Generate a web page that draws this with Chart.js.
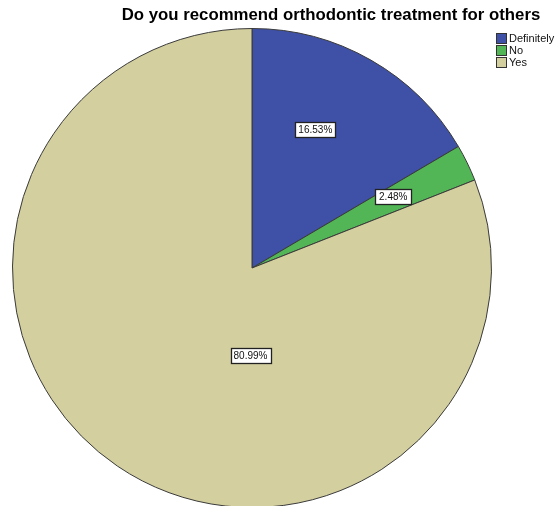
<!DOCTYPE html>
<html>
<head>
<meta charset="utf-8">
<script src="https://cdn.jsdelivr.net/npm/chart.js@4"></script>
<style>
  html, body { margin: 0; padding: 0; background: #fff; overflow: hidden; }
  #wrap { position: relative; width: 555px; height: 510px; }
</style>
</head>
<body>
<div id="wrap"><canvas id="c" width="555" height="510"></canvas></div>
<script>
const chartTitle = 'Do you recommend orthodontic treatment for others';
const categories = ['Definitely', 'No', 'Yes'];
const percentages = [16.53, 2.48, 80.99];
const sliceColors = ['#3f51a7', '#52b556', '#d3cf9f'];

// Boxed percentage labels; each placed by angle (deg from 12 o'clock, or null for mid-slice) and fraction of radius
const labelPlacement = [
  { angle: 24.6, frac: 0.635 },
  { angle: 63.3, frac: 0.66 },
  { angle: 181, frac: 0.365 }
];

const boxedLabels = {
  id: 'boxedLabels',
  afterDatasetsDraw(chart) {
    const ctx = chart.ctx;
    const meta = chart.getDatasetMeta(0);
    ctx.save();
    ctx.font = '10px "Liberation Sans", Arial, sans-serif';
    ctx.textAlign = 'center';
    ctx.textBaseline = 'middle';
    meta.data.forEach((arc, i) => {
      const p = arc.getProps(['x', 'y', 'startAngle', 'endAngle', 'outerRadius'], true);
      const pl = labelPlacement[i];
      let a = pl.angle == null ? (p.startAngle + p.endAngle) / 2 : (pl.angle - 90) * Math.PI / 180;
      const r = p.outerRadius * pl.frac;
      const cx = p.x + Math.cos(a) * r;
      const cy = p.y + Math.sin(a) * r;
      const txt = percentages[i].toFixed(2) + '%';
      const w = Math.max(ctx.measureText(txt).width + 6, 36);
      const h = 15;
      const bx = Math.round(cx - w / 2) + 0.5;
      const by = Math.round(cy - h / 2) + 0.5;
      ctx.fillStyle = '#ffffff';
      ctx.fillRect(bx, by, Math.round(w), h);
      ctx.strokeStyle = '#222';
      ctx.lineWidth = 1.3;
      ctx.strokeRect(bx, by, Math.round(w), h);
      ctx.fillStyle = '#111';
      ctx.fillText(txt, cx, cy + 0.5);
    });
    ctx.restore();
  }
};

const titleAndLegend = {
  id: 'titleAndLegend',
  afterDraw(chart) {
    const ctx = chart.ctx;
    ctx.save();
    ctx.fillStyle = '#000';
    ctx.font = 'bold 16.8px "Liberation Sans", Arial, sans-serif';
    ctx.textAlign = 'center';
    ctx.textBaseline = 'middle';
    ctx.fillText(chartTitle, 331, 15);

    ctx.font = '11px "Liberation Sans", Arial, sans-serif';
    ctx.textAlign = 'left';
    categories.forEach((name, i) => {
      const y = 33 + i * 12;
      ctx.fillStyle = sliceColors[i];
      ctx.fillRect(496.5, y + 0.5, 10, 10);
      ctx.strokeStyle = '#333';
      ctx.lineWidth = 1;
      ctx.strokeRect(496.5, y + 0.5, 10, 10);
      ctx.fillStyle = '#111';
      ctx.fillText(name, 509, y + 6);
    });
    ctx.restore();
  }
};

new Chart(document.getElementById('c'), {
  type: 'pie',
  data: {
    labels: categories,
    datasets: [{
      data: percentages,
      backgroundColor: sliceColors,
      borderColor: '#3a3a3a',
      borderWidth: 1
    }]
  },
  options: {
    responsive: false,
    animation: false,
    layout: { padding: { left: 12, right: 63, top: 28, bottom: 2 } },
    plugins: {
      legend: { display: false },
      title: { display: false },
      tooltip: { enabled: false }
    }
  },
  plugins: [boxedLabels, titleAndLegend]
});
</script>
</body>
</html>
